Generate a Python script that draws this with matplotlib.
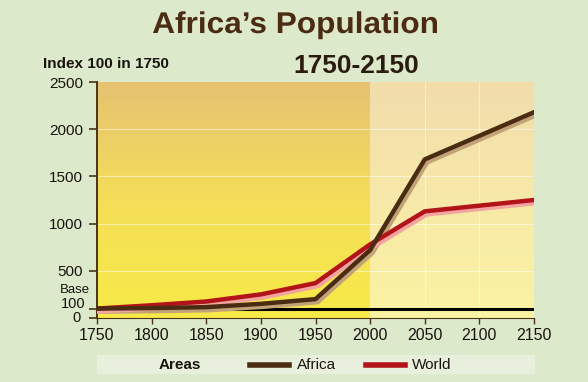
import numpy as np
import matplotlib.pyplot as plt
import matplotlib.transforms as mtransforms
from matplotlib.colors import LinearSegmentedColormap
from matplotlib.textpath import TextPath
from matplotlib.patches import PathPatch
from matplotlib.font_manager import FontProperties

# data (index, 1750 = 100)
years = [1750, 1800, 1850, 1900, 1950, 2000, 2050, 2100, 2150]
africa = [100, 105, 115, 150, 200, 720, 1680, 1930, 2180]
world = [100, 135, 175, 250, 370, 780, 1130, 1190, 1250]
yticks = [0, 100, 500, 1000, 1500, 2000, 2500]
ytick_labels = ["", "", "500", "1000", "1500", "2000", "2500"]

bg = "#dce9ca"
W, H = 588, 382
fig = plt.figure(figsize=(W / 100, H / 100), dpi=100, facecolor=bg)
# axes placed in pixels: x 97..534, y 82..318
ax = fig.add_axes([97 / W, 1 - 318 / H, (534 - 97) / W, (318 - 82) / H])
ax.set_facecolor("none")

# gradient backgrounds: past (1750-2000) and projection (2000-2150)
past = LinearSegmentedColormap.from_list("past", ["#f8ea48", "#f4de58", "#e6c272"])
proj = LinearSegmentedColormap.from_list("proj", ["#fbf3a2", "#f7e9a8", "#f1dcab"])
grad = np.linspace(0, 1, 256).reshape(-1, 1)
ax.imshow(grad, cmap=past, origin="lower", aspect="auto",
          extent=[1750, 2000, 0, 2500], zorder=0)
ax.imshow(grad, cmap=proj, origin="lower", aspect="auto",
          extent=[2000, 2150, 0, 2500], zorder=0)
ax.set_xlim(1750, 2150)
ax.set_ylim(0, 2500)

# faint white grid lines
for v in [500, 1000, 1500, 2000]:
    ax.axhline(v, color="white", lw=0.8, alpha=0.5, zorder=1)
for v in [2050, 2100]:
    ax.axvline(v, color="white", lw=0.8, alpha=0.5, zorder=1)

# base line at 100
ax.axhline(100, color="black", lw=2.2, zorder=2)

# lines with soft drop shadow
shadow = mtransforms.offset_copy(ax.transData, fig=fig, x=2, y=-2.5, units="dots")
ax.plot(years, africa, color="#c2a378", lw=4, transform=shadow, zorder=3)
ax.plot(years, world, color="#f2a4a0", lw=4, transform=shadow, zorder=3)
ax.plot(years, world, color="#b3141a", lw=3.2, zorder=4)
ax.plot(years, africa, color="#4a2c12", lw=3.2, zorder=5)

# axes styling
for s in ["top", "right"]:
    ax.spines[s].set_visible(False)
ax.spines["left"].set_color("#4a3418")
ax.spines["left"].set_linewidth(1.4)
ax.spines["bottom"].set_color("#4a3418")
ax.spines["bottom"].set_linewidth(0.8)

ax.set_yticks(yticks)
ax.set_yticklabels(ytick_labels, fontsize=11, family="Liberation Sans",
                   color="#1a1410")
ax.set_xticks(years)
ax.set_xticklabels([str(y) for y in years], fontsize=11.5,
                   family="Liberation Sans", color="#1a1410")
ax.tick_params(axis="y", length=6, width=1.2, color="#4a3418", pad=4)
ax.tick_params(axis="x", length=4, width=1.0, color="#4a3418", pad=3)

# special labels near the bottom of the y axis
ylab = dict(ha="right", va="center", family="Liberation Sans", color="#1a1410",
            transform=fig.transFigure)
fig.text(90 / W, 1 - 290 / H, "Base", fontsize=9.5, **ylab)
fig.text(86 / W, 1 - 304 / H, "100", fontsize=10.5, **ylab)
fig.text(81 / W, 1 - 318 / H, "0", fontsize=10.5, **ylab)

# main title, drawn as a horizontally condensed text path
fp = FontProperties(family="Liberation Sans", weight="bold")
tp = TextPath((0, 0), "Africa\u2019s Population", size=30, prop=fp)
ext = tp.get_extents()
tr = (mtransforms.Affine2D().translate(-ext.x0, 0)
      .scale(284 / ext.width, 1).translate(153, H - 33))
fig.add_artist(PathPatch(tr.transform_path(tp), facecolor="#4b2c12",
                         edgecolor="none", transform=mtransforms.IdentityTransform()))

fig.text(356 / W, 1 - 66 / H, "1750-2150", ha="center", va="center",
         fontsize=19, fontweight="bold", color="#2a1c10", family="Liberation Sans")
fig.text(43 / W, 1 - 64 / H, "Index 100 in 1750", ha="left", va="center",
         fontsize=11, fontweight="bold", color="#1a1410", family="Liberation Sans")

# legend strip
strip = plt.Rectangle((97 / W, 1 - 374 / H), (535 - 97) / W, 19 / H,
                      transform=fig.transFigure, facecolor="#e8f0dd",
                      edgecolor="none", zorder=0)
fig.patches.append(strip)
ly = 1 - 365 / H
fig.text(180 / W, ly, "Areas", ha="center", va="center", fontsize=11,
         fontweight="bold", color="#1a1410", family="Liberation Sans")
fig.add_artist(plt.Line2D([250 / W, 289 / W], [ly, ly], transform=fig.transFigure,
                          color="#4a2c12", lw=4))
fig.text(297 / W, ly, "Africa", ha="left", va="center", fontsize=11,
         color="#1a1410", family="Liberation Sans")
fig.add_artist(plt.Line2D([366 / W, 405 / W], [ly, ly], transform=fig.transFigure,
                          color="#b3141a", lw=4))
fig.text(412 / W, ly, "World", ha="left", va="center", fontsize=11,
         color="#1a1410", family="Liberation Sans")

fig.savefig("out.png", dpi=100, facecolor=bg)
